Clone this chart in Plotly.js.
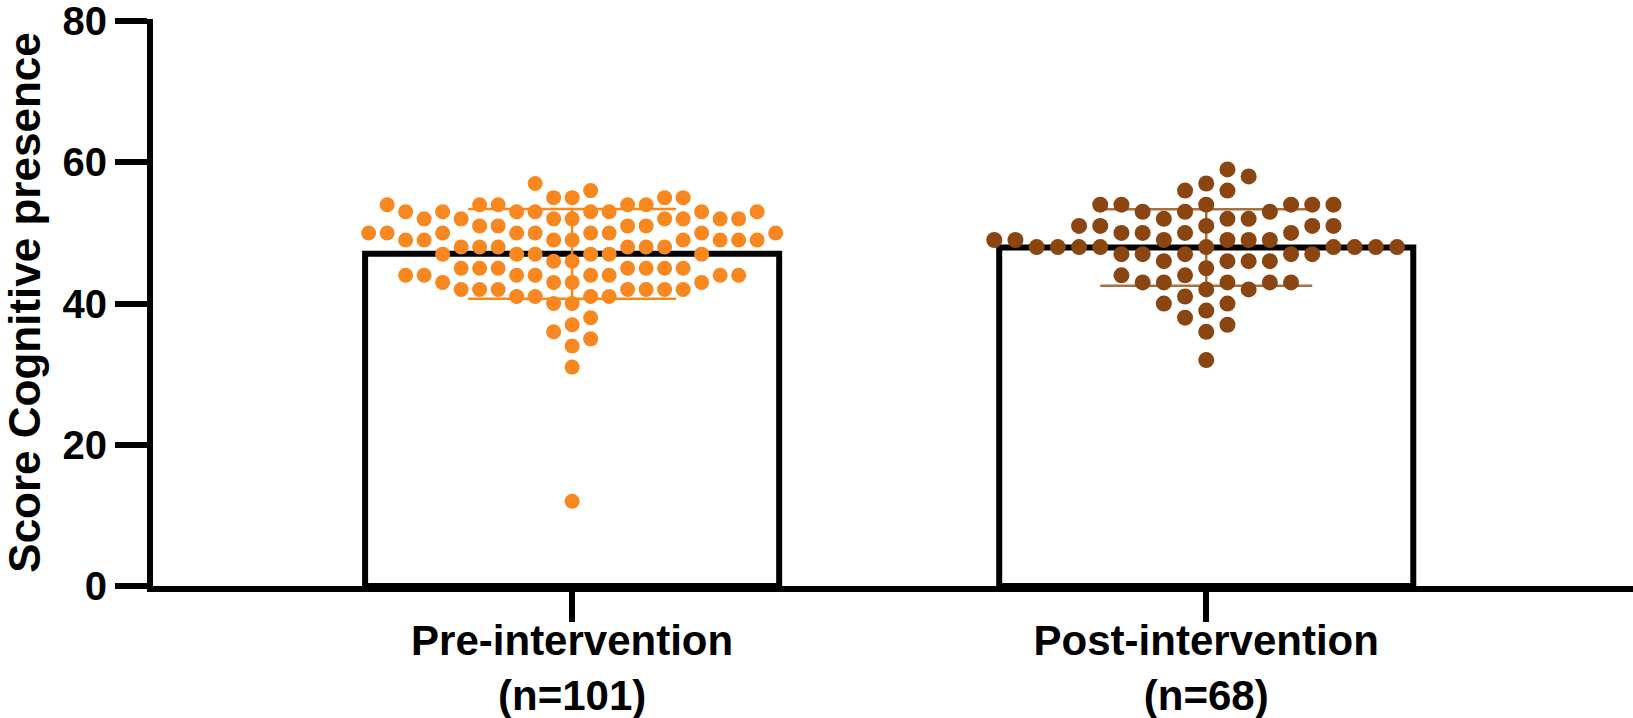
<!DOCTYPE html>
<html>
<head>
<meta charset="utf-8">
<script src="https://cdn.plot.ly/plotly-3.0.1.min.js"></script>
<style>
  html, body { margin: 0; padding: 0; background: #ffffff; }
  #chart { width: 1633px; height: 718px; }
</style>
</head>
<body>
<div id="chart"></div>
<script>
// ---- data ----
const categories = ['Pre-intervention', 'Post-intervention'];
// integer scores and how many participants had each score
const preScores  = [57, 56, 55, 54, 53, 52, 51, 50, 49, 48, 47, 46, 45, 44, 43, 42, 41, 40, 38, 37, 36, 35, 34, 31, 12];
const preCounts  = [ 1,  1,  4,  5,  8,  8,  4,  9,  8,  6,  6,  2,  7,  8,  4,  7,  4,  2,  1,  1,  1,  1,  1,  1,  1];
const postScores = [59, 58, 57, 56, 54, 53, 52, 51, 50, 49, 48, 47, 46, 45, 44, 43, 42, 41, 40, 39, 38, 37, 36, 32];
const postCounts = [ 1,  1,  1,  2,  6,  3,  3,  5,  4,  6,  9,  5,  4,  1,  2,  5,  2,  1,  2,  1,  1,  1,  1,  1];
const yTickVals  = [0, 20, 40, 60, 80];
const yTitle     = 'Score Cognitive presence';

// ---- styles / geometry ----
const W = 1633, H = 718;
const margin = { l: 153, r: 0, t: 19, b: 132, pad: 0 };
const xRange = [-0.661, 1.673];
const yRange = [0, 80.3];
const plotW = W - margin.l - margin.r;
const plotH = H - margin.t - margin.b;
const groupColors = ['#F7871E', '#8A4511'];
const errColors   = ['#F7871E', '#A8703F'];
const markerSize  = [15, 16];
const swarmStep   = [18.5, 21.2];   // px between neighbouring dot columns
const fontFam = '"Liberation Sans", Arial, Helvetica, sans-serif';

function expand(scores, counts) {
  const out = [];
  scores.forEach((s, i) => { for (let k = 0; k < counts[i]; k++) out.push(s); });
  return out;
}
function mean(a) { return a.reduce((s, v) => s + v, 0) / a.length; }
function sd(a) { const m = mean(a); return Math.sqrt(a.reduce((s, v) => s + (v - m) * (v - m), 0) / (a.length - 1)); }

// beeswarm: dots on a column grid, no two closer than stepPx (in pixels)
function swarm(values, center, stepPx) {
  const pxX = plotW / (xRange[1] - xRange[0]);
  const pxY = plotH / (yRange[1] - yRange[0]);
  const placed = [];
  const xs = [], ys = [];
  let balance = 0;
  const order = values.slice().sort((a, b) => a - b);
  for (const v of order) {
    const ypx = v * pxY;
    let best = null;
    for (let k = 0; k < 400 && best === null; k++) {
      const cands = k === 0 ? [0] : (balance > 0 ? [-k, k] : [k, -k]);
      for (const c of cands) {
        let ok = true;
        for (const p of placed) {
          const dx = (c - p.col) * stepPx, dy = ypx - p.ypx;
          if (dx * dx + dy * dy < stepPx * stepPx - 1) { ok = false; break; }
        }
        if (ok) { best = c; break; }
      }
    }
    placed.push({ col: best, ypx });
    balance += best;
    xs.push(center + best * stepPx / pxX);
    ys.push(v);
  }
  return { xs, ys };
}

const groups = [expand(preScores, preCounts), expand(postScores, postCounts)];

const traces = [];
groups.forEach((vals, i) => {
  traces.push({
    type: 'bar',
    x: [i],
    y: [mean(vals)],
    width: 0.653,
    marker: { color: '#ffffff', line: { color: '#000000', width: 6 } },
    error_y: { type: 'data', array: [sd(vals)], visible: true, color: errColors[i], thickness: 2.5, width: i === 0 ? 104 : 106 },
    hoverinfo: 'skip',
    showlegend: false
  });
});
groups.forEach((vals, i) => {
  const s = swarm(vals, i, swarmStep[i]);
  traces.push({
    type: 'scatter',
    mode: 'markers',
    x: s.xs,
    y: s.ys,
    marker: { color: groupColors[i], size: markerSize[i], line: { width: 0 } },
    cliponaxis: false,
    hoverinfo: 'skip',
    showlegend: false
  });
});

const layout = {
  width: W, height: H,
  margin: margin,
  paper_bgcolor: '#ffffff',
  plot_bgcolor: '#ffffff',
  barmode: 'overlay',
  showlegend: false,
  font: { family: fontFam, color: '#000000' },
  xaxis: {
    range: xRange,
    tickmode: 'array',
    tickvals: categories.map((c, i) => i),
    ticktext: categories.map((c, i) => c + '<br>(n=' + groups[i].length + ')'),
    ticks: 'outside', ticklen: 30, tickwidth: 6, tickcolor: '#000000',
    ticklabelstandoff: -17,
    ticklabeloverflow: 'allow',
    showline: true, linewidth: 6, linecolor: '#000000',
    showgrid: false, zeroline: false,
    tickfont: { family: fontFam, size: 42, weight: 700, color: '#000000' },
    fixedrange: true
  },
  yaxis: {
    range: yRange,
    tickmode: 'array',
    tickvals: yTickVals,
    ticktext: yTickVals.map(String),
    ticks: 'outside', ticklen: 32, tickwidth: 6, tickcolor: '#000000',
    ticklabeloverflow: 'allow',
    showline: true, linewidth: 6, linecolor: '#000000',
    showgrid: false, zeroline: false,
    tickfont: { family: fontFam, size: 40, weight: 700, color: '#000000' },
    title: { text: yTitle, font: { family: fontFam, size: 44, weight: 700, color: '#000000' }, standoff: 10 },
    fixedrange: true
  }
};

Plotly.newPlot('chart', traces, layout, { staticPlot: true, displayModeBar: false });
</script>
</body>
</html>
